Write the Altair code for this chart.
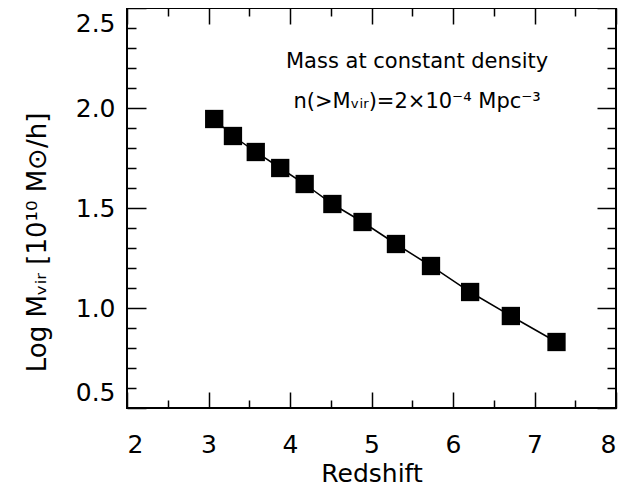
import altair as alt
import pandas as pd

# ---- data ----
redshift = [3.07, 3.30, 3.58, 3.88, 4.18, 4.52, 4.89, 5.30, 5.73, 6.21, 6.71, 7.27]
log_mvir = [1.945, 1.86, 1.78, 1.70, 1.62, 1.52, 1.43, 1.32, 1.21, 1.08, 0.96, 0.83]

x_major = [2, 3, 4, 5, 6, 7, 8]
x_minor = [2.5, 3.5, 4.5, 5.5, 6.5, 7.5]
y_major = [0.5, 1.0, 1.5, 2.0, 2.5]
y_minor = [0.6, 0.7, 0.8, 0.9, 1.1, 1.2, 1.3, 1.4, 1.6, 1.7, 1.8, 1.9,
           2.1, 2.2, 2.3, 2.4]

note_lines = ["Mass at constant density", "n(>Mᵥᵢᵣ)=2×10⁻⁴ Mpc⁻³"]
note_x = [5.56, 5.56]
note_y = [2.2, 2.0]

W, H = 489, 400
FONT = "DejaVu Sans"

df = pd.DataFrame({"z": redshift, "m": log_mvir})
notes = pd.DataFrame({"text": note_lines, "x": note_x, "y": note_y})

xs = alt.Scale(domain=[2, 8], nice=False, zero=False)
ys = alt.Scale(domain=[0.5, 2.5], nice=False, zero=False)


def tick_axis(orient, values, size, offset):
    return alt.Axis(orient=orient, values=values, tickSize=size, offset=offset,
                    labels=False, domain=False, grid=False,
                    tickColor="black", tickWidth=1.5)


x_label_axis = alt.Axis(
    orient="bottom", values=x_major, ticks=False, tickSize=0, domain=False,
    grid=False, labelPadding=24, labelFontSize=25, labelFont=FONT,
    labelColor="black", title="Redshift", titleFont=FONT, titleFontSize=25,
    titleFontWeight="normal", titleColor="black", titleX=W / 2, titleY=73,
    titleAlign="center", titleBaseline="alphabetic")

y_label_axis = alt.Axis(
    orient="left", values=y_major, ticks=False, tickSize=0, domain=False,
    grid=False, labelPadding=12, labelFontSize=25, labelFont=FONT,
    labelColor="black", labelFlush=True, labelFlushOffset=-3, format=".1f",
    title="Log Mᵥᵢᵣ [10¹⁰ M⊙/h]", titleFont=FONT, titleFontSize=26,
    titleFontWeight="normal", titleColor="black", titleX=-82, titleY=234,
    titleAngle=270, titleAlign="center", titleBaseline="alphabetic")

base = alt.Chart(df)

line = base.mark_line(color="black", strokeWidth=1.5).encode(
    x=alt.X("z:Q", scale=xs, axis=x_label_axis),
    y=alt.Y("m:Q", scale=ys, axis=y_label_axis),
)

points = base.mark_square(size=335, color="black", opacity=1).encode(
    x=alt.X("z:Q", scale=xs, title=None, axis=tick_axis("top", x_major, 16, -H)),
    y=alt.Y("m:Q", scale=ys, title=None, axis=tick_axis("right", y_major, 19, -W)),
)

text = alt.Chart(notes).mark_text(font=FONT, fontSize=21, color="black",
                                  align="center", baseline="alphabetic").encode(
    x=alt.X("x:Q", scale=xs, title=None, axis=tick_axis("top", x_minor, 8, -H)),
    y=alt.Y("y:Q", scale=ys, title=None, axis=tick_axis("right", y_minor, 9, -W)),
    text="text:N",
)

ghost1 = base.mark_point(opacity=0).encode(
    x=alt.X("z:Q", scale=xs, title=None, axis=tick_axis("bottom", x_major, 16, -H)),
    y=alt.Y("m:Q", scale=ys, title=None, axis=tick_axis("left", y_major, 19, -W)),
)

ghost2 = base.mark_point(opacity=0).encode(
    x=alt.X("z:Q", scale=xs, title=None, axis=tick_axis("bottom", x_minor, 8, -H)),
    y=alt.Y("m:Q", scale=ys, title=None, axis=tick_axis("left", y_minor, 9, -W)),
)

chart = alt.layer(line, points, text, ghost1, ghost2).resolve_axis(
    x="independent", y="independent"
).properties(
    width=W, height=H,
    autosize=alt.AutoSizeParams(type="none"),
    padding={"left": 119, "top": 0, "right": 14, "bottom": 79},
    background="white",
).configure_view(stroke="black", strokeWidth=2)

chart.save("out.html", embed_options={"renderer": "svg", "actions": False})
